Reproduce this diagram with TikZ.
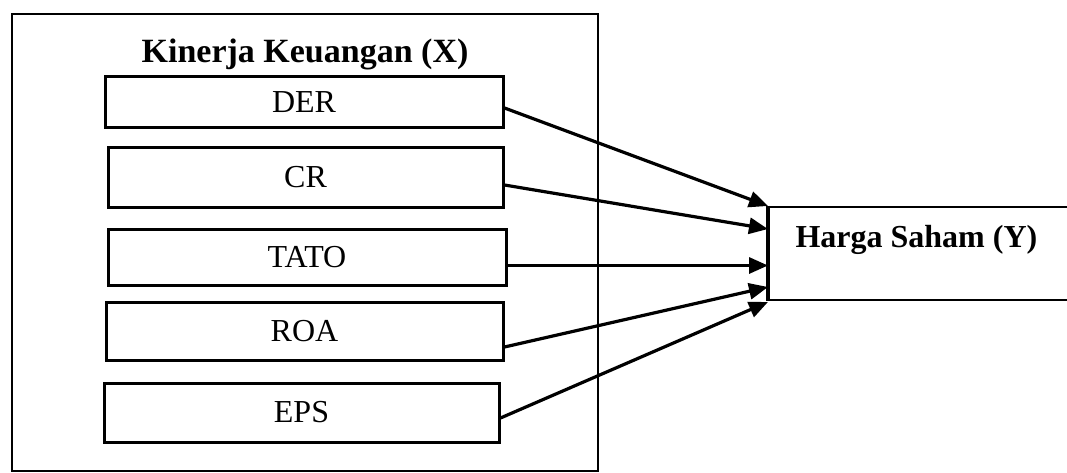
\documentclass[tikz,border=0pt]{standalone}
\usepackage{fontspec}
\setmainfont{Liberation Serif}
\usetikzlibrary{arrows.meta,positioning,calc}
\begin{document}
\begin{tikzpicture}[x=1pt,y=-1pt,
  txt/.style={font=\fontsize{32}{38}\selectfont},
  btxt/.style={font=\fontsize{32}{38}\selectfont\bfseries},
  ttxt/.style={font=\fontsize{34}{40}\selectfont\bfseries},
  ind/.style={draw=black,line width=3pt,inner sep=0pt,txt},
  arr/.style={line width=3.2pt,-{Triangle[length=19pt,width=16pt]}}]
\useasboundingbox (0,0) rectangle (1067,473);
% outer box
\draw[line width=2.2pt] (12,14) rectangle (598,471);
\node[ttxt,anchor=base] (title) at (305,63) {Kinerja Keuangan (X)};
% indicator boxes
\node[ind,minimum width=398pt,minimum height=51pt] (der)  at (304,102.5) {DER};
\node[ind,minimum width=395pt,minimum height=59pt] (cr)   at (305.5,177.5) {CR};
\node[ind,minimum width=398pt,minimum height=56pt] (tato) at (307,257) {TATO};
\node[ind,minimum width=397pt,minimum height=58pt] (roa)  at (304.5,331) {ROA};
\node[ind,minimum width=395pt,minimum height=59pt] (eps)  at (301.5,412.5) {EPS};
% dependent box
\draw[line width=2.5pt] (1080,207) -- (768,207) -- (768,300) -- (1080,300);
\draw[line width=3.5pt] (768,205.8) -- (768,301.2);
\node[inner sep=0pt,minimum width=312pt,minimum height=93pt] (y) at (924,253.5) {};
\node[btxt,anchor=base west] (ylab) at (792,247) {Harga Saham (Y)};
\coordinate (t1) at (768,206);
\coordinate (t2) at (768,229);
\coordinate (t3) at (768,265.5);
\coordinate (t4) at (768,287);
\coordinate (t5) at (768,302);
\draw[arr] ([yshift=-5.5pt]der.east) -- (t1);
\draw[arr] ([yshift=-7.5pt]cr.east) -- (t2);
\draw[arr] ([yshift=-8.5pt]tato.east) -- (t3);
\draw[arr] ([yshift=-16pt]roa.east) -- (t4);
\draw[arr] ([yshift=-5.5pt]eps.east) -- (t5);
\end{tikzpicture}
\end{document}
